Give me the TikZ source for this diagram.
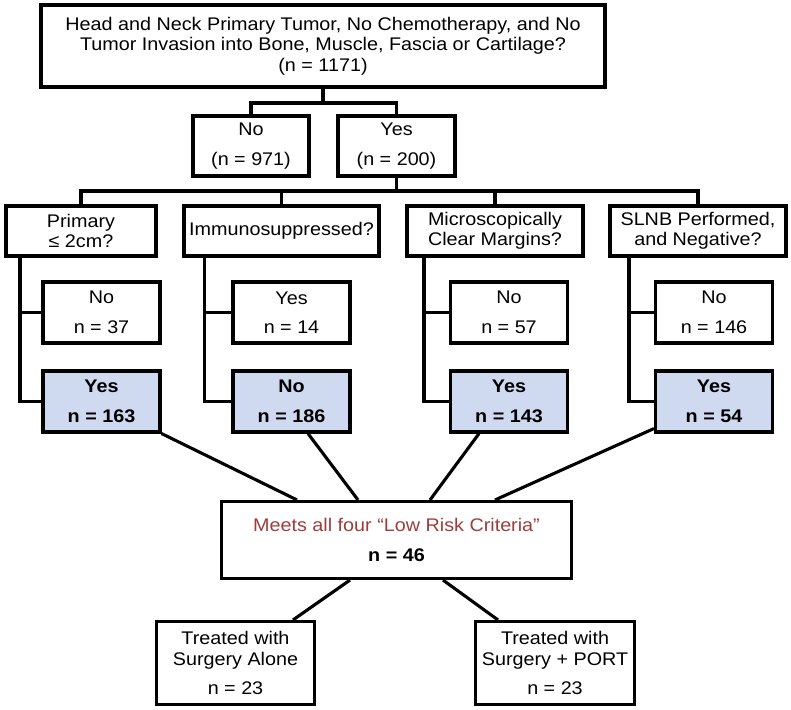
\documentclass[tikz,border=0pt]{standalone}
\usepackage{fontspec}
\setmainfont{Liberation Sans}[FakeStretch=1.08]
\usetikzlibrary{calc}
\definecolor{hl}{RGB}{207,217,240}
\definecolor{crit}{RGB}{160,60,58}
\begin{document}
\begin{tikzpicture}[x=1pt,y=-1pt,
  bx/.style={draw, line width=3.1pt, inner sep=0pt, align=center, font=\fontsize{18.3}{20.5}\selectfont, text=black},
  hi/.style={bx, fill=hl, font=\fontsize{18.3}{20.5}\selectfont\bfseries},
  sub/.style={minimum width=117pt, minimum height=61pt},
  lvl/.style={minimum height=50pt},
  ln/.style={line width=3.1pt}]
\useasboundingbox (0,0) rectangle (791,709);
% top
\node[bx, minimum width=564pt, minimum height=82pt] (top) at (323,46)
  {Head and Neck Primary Tumor, No Chemotherapy, and No\\
   Tumor Invasion into Bone, Muscle, Fascia or Cartilage?\\
   (n = 1171)};
\node[bx, minimum width=116pt, minimum height=60pt] (no0) at (251,146) {No\\[9pt](n = 971)};
\node[bx, minimum width=117pt, minimum height=60pt] (yes0) at (396.5,146) {Yes\\[9pt](n = 200)};
% level 2
\node[bx, lvl, minimum width=150pt] (b1) at (81,231) {Primary\\≤ 2cm?};
\node[bx, lvl, minimum width=195pt] (b2) at (281.5,231) {Immunosuppressed?};
\node[bx, lvl, minimum width=176pt] (b3) at (495,231) {Microscopically\\Clear Margins?};
\node[bx, lvl, minimum width=176pt] (b4) at (698,231) {SLNB Performed,\\and Negative?};
% level 3
\node[bx, sub] (n1) at (101.5,312.5) {No\\[9pt]n = 37};
\node[bx, sub] (n2) at (291.5,312.5) {Yes\\[9pt]n = 14};
\node[bx, sub] (n3) at (509,312.5) {No\\[9pt]n = 57};
\node[bx, sub] (n4) at (714,312.5) {No\\[9pt]n = 146};
\node[hi, sub] (y1) at (101.5,401.5) {Yes\\[9pt]n = 163};
\node[hi, sub] (y2) at (291.5,401.5) {No\\[9pt]n = 186};
\node[hi, sub] (y3) at (509,401.5) {Yes\\[9pt]n = 143};
\node[hi, sub] (y4) at (714,401.5) {Yes\\[9pt]n = 54};
% central
\node[bx, minimum width=350pt, minimum height=77pt] (c) at (396.5,540)
  {\textcolor{crit}{Meets all four “Low Risk Criteria”}\\[10pt]\textbf{n = 46}};
% bottom
\node[bx, minimum width=158pt, minimum height=83pt] (bl) at (235.5,663)
  {Treated with\\Surgery Alone\\[9pt]n = 23};
\node[bx, minimum width=159pt, minimum height=83pt] (br) at (555,663)
  {Treated with\\Surgery + PORT\\[9pt]n = 23};
% connectors
\coordinate (h1) at (0,103);
\coordinate (h2) at (0,191);
\draw[ln] (top.south) -- (top.south |- h1);
\draw[ln] (no0.north) -- (no0.north |- h1) -- (yes0.north |- h1) -- (yes0.north);
\draw[ln] (yes0.south) -- (yes0.south |- h2);
\draw[ln] (b1.north) -- (b1.north |- h2) -- (b4.north |- h2) -- (b4.north);
\draw[ln] (b2.north) -- (b2.north |- h2);
\draw[ln] (b3.north) -- (b3.north |- h2);
\coordinate (v1) at (20,0);
\coordinate (v2) at (204.5,0);
\coordinate (v3) at (424,0);
\coordinate (v4) at (629,0);
\foreach \i in {1,2,3,4}{
  \draw[ln] (b\i.south -| v\i) |- (y\i.west);
  \draw[ln] (n\i.west -| v\i) -- (n\i.west);
}
\draw[ln] (y1.south east) -- (297,0 |- c.north);
\draw[ln] (308,0 |- y2.south) -- (358,0 |- c.north);
\draw[ln] (479,0 |- y3.south) -- (430,0 |- c.north);
\draw[ln] ($(y4.south west)+(0,-5)$) -- (495,0 |- c.north);
\draw[ln] (350,0 |- c.south) -- (293,0 |- bl.north);
\draw[ln] (443,0 |- c.south) -- (498,0 |- br.north);
\end{tikzpicture}
\end{document}
